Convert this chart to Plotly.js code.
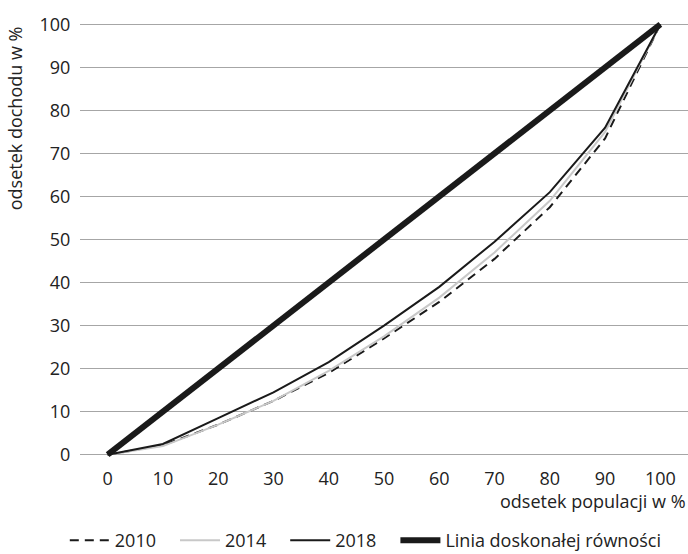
<!DOCTYPE html>
<html>
<head>
<meta charset="utf-8">
<script src="https://cdn.plot.ly/plotly-3.0.1.min.js"></script>
<style>html,body{margin:0;padding:0;background:#fff;}#chart{width:688px;height:554px;}</style>
</head>
<body>
<div id="chart"></div>
<script>
const population = [0, 10, 20, 30, 40, 50, 60, 70, 80, 90, 100];
const income2010 = [0, 2.2, 7, 12.5, 19, 27, 35.5, 45.5, 57.5, 73.5, 100];
const income2014 = [0, 2, 7, 12.5, 19.5, 27.5, 36.5, 47, 59, 75, 100];
const income2018 = [0, 2.5, 8.5, 14.5, 21.5, 30, 39, 49.5, 61, 76, 100];
const equality = [0, 10, 20, 30, 40, 50, 60, 70, 80, 90, 100];
const seriesNames = ['2010', '2014', '2018', 'Linia doskonałej równości'];
const xTicks = [0, 10, 20, 30, 40, 50, 60, 70, 80, 90, 100];
const yTicks = [0, 10, 20, 30, 40, 50, 60, 70, 80, 90, 100];

const font = 'Open Sans, Noto Sans, sans-serif';
const fs = 18;
const pad = '\u00a0\u00a0\u00a0';
const traces = [
  {x: population, y: income2010, name: seriesNames[0] + pad, mode: 'lines', line: {color: '#1a1a1a', width: 2, dash: '9px,6px'}},
  {x: population, y: income2014, name: seriesNames[1] + pad, mode: 'lines', line: {color: '#c8c8c8', width: 2}},
  {x: population, y: income2018, name: seriesNames[2] + pad, mode: 'lines', line: {color: '#1a1a1a', width: 2}},
  {x: population, y: equality, name: seriesNames[3], mode: 'lines', line: {color: '#1a1a1a', width: 6}}
];
const layout = {
  width: 688, height: 554,
  margin: {l: 80, r: 0, t: 20, b: 95, autoexpand: false},
  paper_bgcolor: '#fff', plot_bgcolor: '#fff',
  font: {family: font, size: fs, color: '#222'},
  showlegend: true,
  legend: {orientation: 'h', x: -0.025, xanchor: 'left', y: -0.186, yanchor: 'middle',
           font: {family: font, size: fs, color: '#222'}, itemwidth: 40,
           tracegroupgap: 0, bgcolor: 'rgba(0,0,0,0)'},
  xaxis: {range: [-5, 105], tickvals: xTicks, ticktext: xTicks.map(String), showgrid: false, zeroline: false,
          showline: false, ticks: 'outside', ticklen: 3, tickcolor: 'rgba(0,0,0,0)',
          tickfont: {family: font, size: fs, color: '#222'}},
  yaxis: {range: [-1, 101], tickvals: yTicks, ticktext: yTicks.map(String), showgrid: true, gridcolor: '#a6a6a6', gridwidth: 1.5,
          zeroline: false, showline: false, ticks: 'outside', ticklen: 5, tickcolor: 'rgba(0,0,0,0)',
          tickfont: {family: font, size: fs, color: '#222'}},
  annotations: [
    {text: 'odsetek dochodu w %', xref: 'paper', yref: 'paper', x: -0.107, y: 0.776, xanchor: 'center', yanchor: 'middle',
     textangle: -90, showarrow: false, font: {family: font, size: fs, color: '#222'}},
    {text: 'odsetek populacji w %', xref: 'paper', yref: 'paper', x: 1, y: -0.095, xanchor: 'right', yanchor: 'middle',
     showarrow: false, font: {family: font, size: fs, color: '#222'}}
  ]
};
Plotly.newPlot('chart', traces, layout, {displayModeBar: false, staticPlot: true});
</script>
</body>
</html>
